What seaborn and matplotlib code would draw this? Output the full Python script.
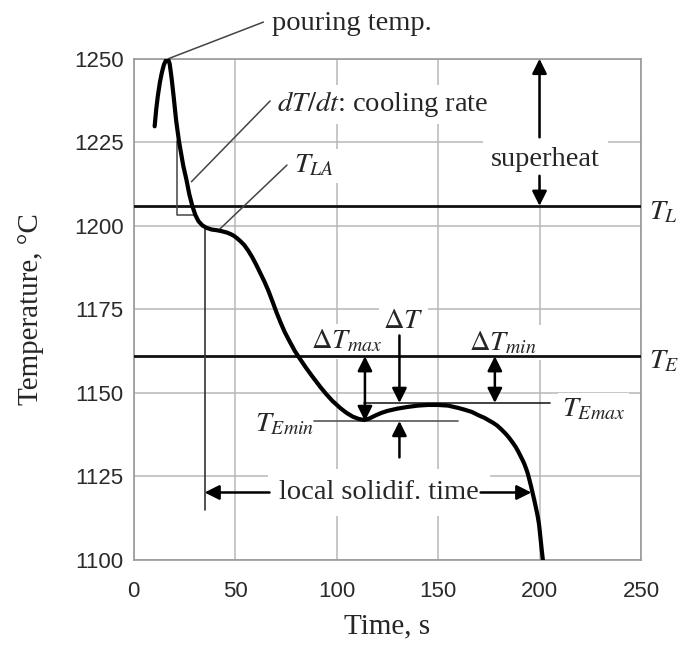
import matplotlib
matplotlib.use("Agg")
import matplotlib.pyplot as plt
import seaborn as sns
import pandas as pd
from matplotlib.ticker import MultipleLocator

# cooling curve
time_s = [10.4, 11.2, 12, 13, 14, 15, 16, 17, 17.8, 18.7, 19.8, 21, 22.4, 24.5, 26.1,
          27.5, 29, 30.5, 32, 34, 36, 38.5, 41, 43.5, 46, 48, 49.5, 51, 52.5, 54.5,
          56.5, 58.5, 60.5, 62.5, 64.5, 66.5, 68.5, 70.5, 72.5, 74.5, 77, 79.5, 82,
          85, 88, 92, 95, 98, 102, 105, 108, 111, 113.6, 116, 119, 122, 125, 130,
          135, 140, 145, 150, 155, 160, 163, 166.7, 170, 173, 175, 177, 179, 181,
          183.3, 185, 186.7, 188.3, 189.5, 190.5, 191.5, 192.5, 193.3, 194, 194.6,
          195.2, 195.9, 196.7, 197.4, 198, 198.6, 199.2, 199.8, 200.5, 201.1, 201.7]
temp_c = [1229.8, 1235, 1239, 1243, 1246, 1248.3, 1249.6, 1250, 1248.5, 1244.5, 1238.5,
          1231.5, 1225.3, 1218, 1213.7, 1209.4, 1205.9, 1203.2, 1201.4, 1200.1, 1199.4,
          1198.9, 1198.7, 1198.4, 1198, 1197.5, 1197, 1196.3, 1195.5, 1194.3, 1192.6,
          1190.6, 1188.3, 1185.8, 1183.3, 1180.5, 1177.3, 1174, 1171, 1168.2, 1165.3,
          1162.5, 1160.2, 1157.5, 1155, 1151.8, 1149.6, 1147.6, 1145.4, 1144, 1142.9,
          1142.2, 1141.9, 1142.3, 1143.2, 1144, 1144.6, 1145.3, 1145.8, 1146.2, 1146.4,
          1146.4, 1146.2, 1145.5, 1145, 1144.3, 1143.3, 1142.5, 1141.8, 1141.1, 1140.3,
          1139.2, 1137.8, 1136.6, 1135.2, 1133.8, 1132.5, 1131.3, 1130.1, 1128.8,
          1127.5, 1126.3, 1125, 1123.6, 1121.9, 1119.8, 1118, 1116.3, 1114.6, 1112.8,
          1110.5, 1106.5, 1103, 1099.8]

# characteristic temperatures / times
T_pour = 1250
T_L = 1206
T_E = 1161
T_Emax = 1147
T_Emin = 1141.6
t_pour = 17
t_Emin = 114
t_start = 35      # start of solidification (vertical marker)
t_end = 196       # end of solidification
T_rate_top = 1225.3
T_rate_bot = 1203.3
t_rate_left = 21.5
t_rate_right = 30

x_ticks = [0, 50, 100, 150, 200, 250]
y_ticks = [1100, 1125, 1150, 1175, 1200, 1225, 1250]

df = pd.DataFrame({"Time": time_s, "Temp": temp_c})

sns.set_style("white")
plt.rcParams["font.family"] = ["Liberation Serif", "DejaVu Serif"]
plt.rcParams["mathtext.fontset"] = "stix"

fig = plt.figure(figsize=(6.83, 6.5), dpi=100)
ax = fig.add_axes([0.1955, 0.1385, 0.743, 0.771])

grid_c = "#b8b8b8"
ax.set_axisbelow(True)
ax.grid(True, which="major", color=grid_c, lw=1.1)

sns.lineplot(data=df, x="Time", y="Temp", sort=False, estimator=None,
             color="black", lw=3, ax=ax, zorder=4)

ax.set_xlim(0, 250)
ax.set_ylim(1100, 1250)
ax.set_xticks(x_ticks)
ax.set_yticks(y_ticks)
ax.xaxis.set_minor_locator(MultipleLocator(25))
ax.yaxis.set_minor_locator(MultipleLocator(5))
ax.tick_params(which="major", length=0, labelsize=16, labelcolor="#2a2a2a")
ax.tick_params(axis="y", which="major", pad=7)
ax.tick_params(axis="x", which="major", pad=15)
ax.tick_params(which="minor", direction="in", length=6, color="#999999", width=1)
for lab in ax.get_xticklabels() + ax.get_yticklabels():
    lab.set_fontfamily("Liberation Sans")
for sp in ax.spines.values():
    sp.set_color("#999999")
    sp.set_linewidth(1.2)

ax.set_xlabel("Time, s", fontsize=21, labelpad=8)
ax.set_ylabel("Temperature, °C", fontsize=21, labelpad=22)

# liquidus / eutectic lines
ax.axhline(T_L, color="#111111", lw=2, zorder=3)
ax.axhline(T_E, color="#111111", lw=2, zorder=3)
ax.plot([113.6, 205], [T_Emax, T_Emax], color="#222222", lw=1.2, zorder=3)
ax.plot([88.8, 159.8], [T_Emin, T_Emin], color="#555555", lw=1.2, zorder=3)

# cooling-rate bracket and start marker
thin = dict(color="#444444", lw=1.1, zorder=3)
ax.plot([t_rate_left, t_rate_left, t_rate_right],
        [T_rate_top, T_rate_bot, T_rate_bot], **thin)
ax.plot([t_start, t_start], [1199, 1115], color="#333333", lw=1.2, zorder=3)

# pointer lines
ax.plot([t_pour, 64], [T_pour, 1261], clip_on=False, **thin)
ax.plot([28.5, 67.3], [1213.2, 1237.4], **thin)
ax.plot([42.6, 75.6], [1199.1, 1218.2], **thin)

box = dict(facecolor="white", edgecolor="none", pad=3)
fs = 20.5

ax.text(68, 1260.6, "pouring temp.", fontsize=fs, ha="left", va="center",
        clip_on=False)
ax.text(70.6, 1236.4, "$dT/dt$: cooling rate", fontsize=fs, ha="left",
        va="center", bbox=box, zorder=2)
ax.text(79, 1218, "$T_{LA}$", fontsize=fs, ha="left", va="center",
        bbox=box, zorder=2)
ax.text(203, 1220, "superheat", fontsize=fs, ha="center", va="center",
        bbox=dict(facecolor="white", edgecolor="none", pad=6), zorder=2)
ax.text(254, 1204, "$T_L$", fontsize=fs, ha="left", va="center", clip_on=False)
ax.text(254, 1159.5, "$T_E$", fontsize=fs, ha="left", va="center", clip_on=False)
ax.text(211, 1145, "$T_{Emax}$", fontsize=fs, ha="left", va="center",
        bbox=box, zorder=2)
ax.text(74.5, 1140.6, "$T_{Emin}$", fontsize=fs, ha="center", va="center",
        bbox=box, zorder=2)
ax.text(105, 1165.5, r"$\Delta T_{max}$", fontsize=fs, ha="center", va="center",
        bbox=box, zorder=2)
ax.text(133, 1171.5, r"$\Delta T$", fontsize=fs, ha="center", va="center",
        bbox=box, zorder=2)
ax.text(182, 1165, r"$\Delta T_{min}$", fontsize=fs, ha="center", va="center",
        bbox=box, zorder=2)
ax.text(121, 1120.2, "local solidif. time", fontsize=fs, ha="center",
        va="center", bbox=dict(facecolor="white", edgecolor="none", pad=8),
        zorder=2)

# arrows
def arrow(x0, y0, x1, y1, style="-|>"):
    ax.annotate("", xy=(x1, y1), xytext=(x0, y0),
                arrowprops=dict(arrowstyle=style, color="black", lw=1.8,
                                mutation_scale=22, shrinkA=0, shrinkB=0),
                zorder=5, annotation_clip=False)

arrow(200, 1226.5, 200, T_pour)
arrow(200, 1215, 200, T_L)
arrow(t_Emin, T_E, t_Emin, T_Emin, "<|-|>")
arrow(131, 1167.2, 131, T_Emax)
arrow(131, 1130.7, 131, T_Emin)
arrow(178, T_E, 178, T_Emax, "<|-|>")
arrow(67, 1120.2, t_start, 1120.2)
arrow(171, 1120.2, t_end, 1120.2)

fig.savefig("out.png", dpi=100)
